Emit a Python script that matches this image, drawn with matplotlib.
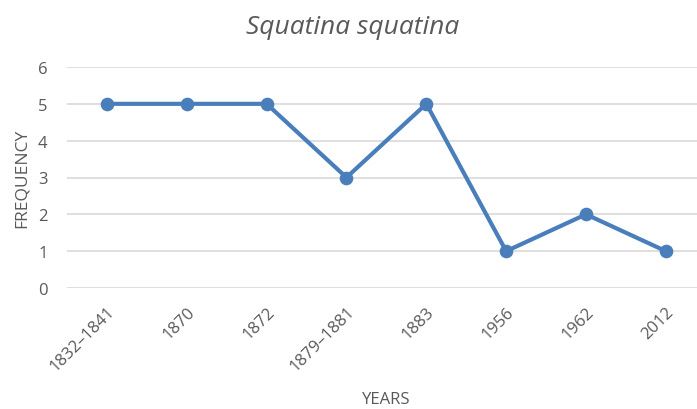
import numpy as np
import matplotlib.pyplot as plt

plt.rcParams['font.family'] = ['Open Sans', 'DejaVu Sans']

years = ['1832\u20131841', '1870', '1872', '1879\u20131881', '1883', '1956', '1962', '2012']
frequency = [5, 5, 5, 3, 5, 1, 2, 1]

grey = '#595959'
blue = '#4a7ebb'

fig = plt.figure(figsize=(6.97, 4.10), dpi=100)
ax = fig.add_axes([67 / 697, 121 / 410, 630 / 697, 221 / 410])

x = np.arange(len(years))
ax.plot(x, frequency, color=blue, lw=3.0, marker='o', ms=8.8, zorder=3, clip_on=False)

ax.set_ylim(0, 6)
ax.set_xlim(-0.5, 7.39)
ax.set_yticks(range(7))
ax.yaxis.grid(True, color='#d9d9d9', lw=1.2)
ax.set_axisbelow(True)
for s in ax.spines.values():
    s.set_visible(False)
ax.tick_params(length=0, colors=grey, labelsize=12)
ax.tick_params(axis='y', pad=14)
ax.tick_params(axis='x', pad=11)
ax.set_xticks(x)
ax.set_xticklabels(years, rotation=45, ha='right', rotation_mode='anchor')

fig.text(386 / 697, 1 - 400 / 410, 'YEARS', color=grey, fontsize=12,
         ha='center', va='center')
ax.set_ylabel('FREQUENCY', color=grey, fontsize=12.5, labelpad=6)
fig.text(353 / 697, 1 - 27 / 410, 'Squatina squatina', fontsize=19, style='italic',
         color=grey, ha='center', va='center')

fig.savefig('out.png', dpi=100)
